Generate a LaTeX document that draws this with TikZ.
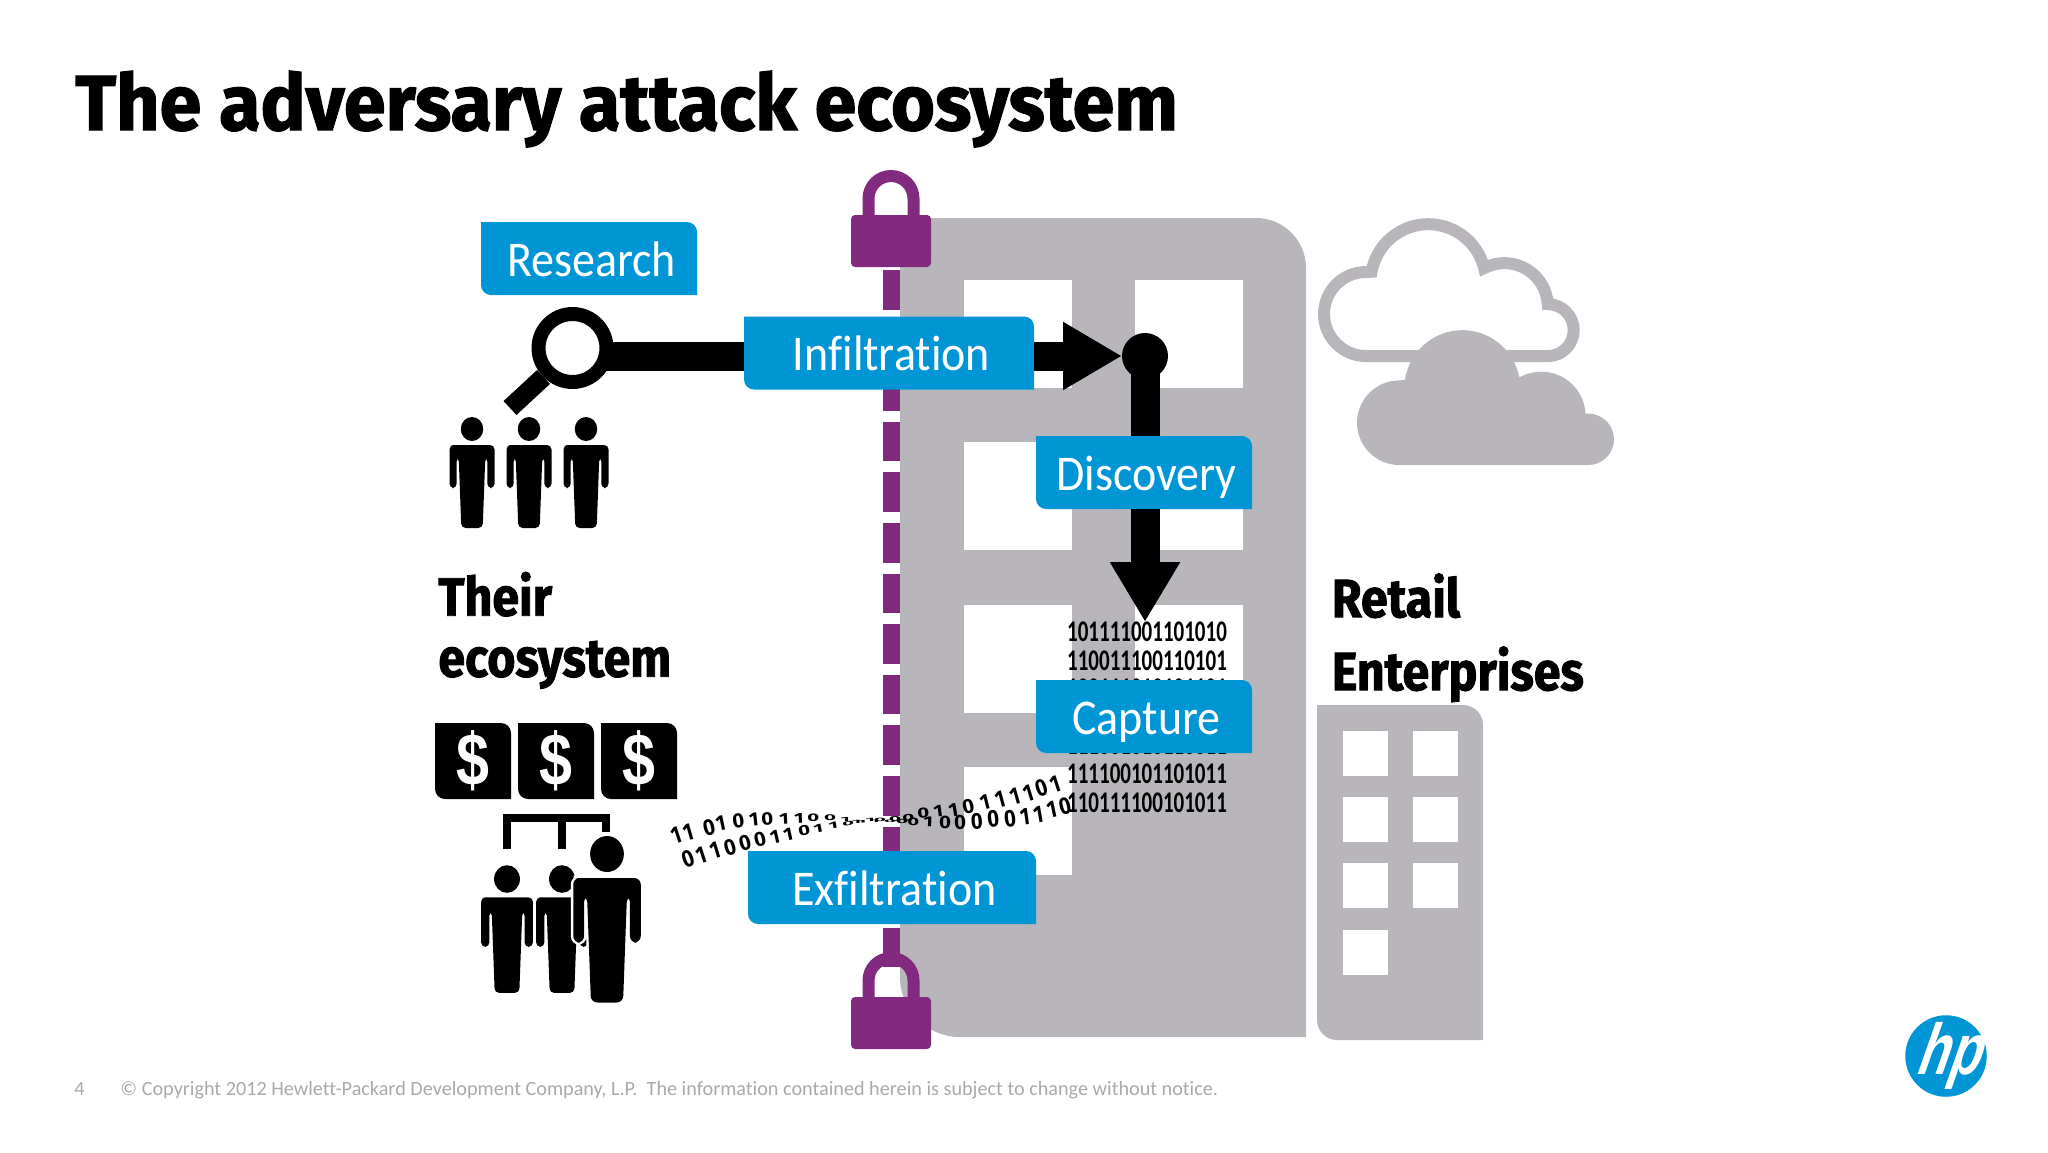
\documentclass[tikz,border=0pt]{standalone}
\usepackage{fontspec}
\usepackage{tikz}
\usetikzlibrary{arrows.meta, positioning, calc}
\setmainfont[Ligatures=NoCommon]{Carlito}
\newfontfamily\titlefont[FakeStretch=0.967,FakeBold=1.6,Ligatures=NoCommon]{Fira Sans}
\newfontfamily\headfont[FakeStretch=0.895,FakeBold=1.6,Ligatures=NoCommon]{Fira Sans}
\newfontfamily\labelfont[FakeStretch=0.92,Ligatures=NoCommon]{Carlito}
\newfontfamily\bitfont[FakeStretch=0.70]{Carlito}
\newfontfamily\bentfont[FakeStretch=0.85]{Fira Sans}
\newfontfamily\moneyfont[FakeStretch=0.8]{Liberation Sans}
\newfontfamily\logofont[FakeStretch=0.72,FakeSlant=0.35]{Liberation Sans}
\definecolor{hpblue}{HTML}{0096D6}
\definecolor{hppurple}{HTML}{822980}
\definecolor{bldgray}{HTML}{B8B6BA}
\definecolor{footgray}{HTML}{A9A9AB}

\tikzset{
    pics/person/.style={code={
        \path[fill=black] (0,0) ellipse [x radius=11.25, y radius=12];
        \path[fill=black, rounded corners=2.2pt, #1] (-18,16) -- (22.5,16) -- (22.5,59) -- (15.3,59) -- (15.3,28)
            -- (13.3,28) -- (10.7,99) -- (-10.7,99) -- (-13.3,28) -- (-15.3,28) -- (-15.3,59)
            -- (-22.5,59) -- (-22.5,16) -- cycle;
    }},
    pics/person/.default={},
    pics/lock/.style={code={
        \draw[hppurple, line width=6pt] (-22.5,0) -- (-22.5,-16.5) arc (180:360:22.5) -- (22.5,0);
        \fill[hppurple, rounded corners=2pt] (-40,0) rectangle (40,52);
    }}
}

\begin{document}
\begin{tikzpicture}[
    x=0.5pt, y=-0.5pt,
    cornerbox/.style={path picture={
        \fill[#1] (path picture bounding box.north west) [rounded corners=5pt]
            -- (path picture bounding box.north east) [sharp corners]
            -- (path picture bounding box.south east) [rounded corners=5pt]
            -- (path picture bounding box.south west) [sharp corners] -- cycle;}},
    stagebox/.style={cornerbox=hpblue, rectangle, inner sep=0pt, outer sep=0pt, minimum width=#1, minimum height=36.5pt,
        text height=19.3pt, text depth=1.5pt, text=white, font=\labelfont\fontsize{25}{30}\selectfont,
        execute at begin node={\kern2.5pt}},
    moneybox/.style={cornerbox=black, rectangle, inner sep=0pt, outer sep=0pt, minimum width=38pt, minimum height=38pt,
        text=white, font=\moneyfont\bfseries\fontsize{37}{37}\selectfont},
    blockfill/.style={fill=bldgray},
    pane/.style={fill=white},
    wall/.style={draw=hppurple, line width=8.5pt, dash pattern=on 19.75pt off 5.55pt},
    flowline/.style={draw=black, line width=14.5pt},
    bitrow/.style={font=\bitfont\bfseries\fontsize{15}{15}\selectfont, inner sep=0pt},
    bitbent/.style={font=\bentfont\bfseries\fontsize{12}{12}\selectfont, inner sep=0pt},
    headtext/.style={font=\headfont\bfseries\fontsize{27}{#1}\selectfont, align=left, inner sep=0pt},
    foottext/.style={text=footgray, font=\fontsize{10.1}{12}\selectfont, inner sep=0pt}
]
    \useasboundingbox (0,0) rectangle (2048,1152);

    % Title
    \node[font=\titlefont\bfseries\fontsize{39}{39}\selectfont, anchor=base west, inner sep=0pt] (title) at (75,130) {The adversary attack ecosystem};

    % Big building
    \fill[blockfill] (900,218) -- (1256,218) arc (270:360:50) -- (1306,1037) -- (960,1037) arc (90:180:60) -- cycle;
    \foreach \wx/\wy in {964/280, 1135/280, 964/442, 1135/442, 964/605, 1135/605, 964/767}
        \fill[pane] (\wx,\wy) rectangle ++(108,108);

    % Small building
    \fill[blockfill] (1317,705) -- (1463,705) arc (270:360:20) -- (1483,1040) -- (1337,1040) arc (90:180:20) -- cycle;
    \foreach \wx/\wy in {1343/731, 1413/731, 1343/797, 1413/797, 1343/863, 1413/863, 1343/930}
        \fill[pane] (\wx,\wy) rectangle ++(44.5,44.5);

    % Clouds
    \draw[bldgray, line width=6pt] (1366,356) arc (90:270:42) -- (1371.6,271.7) arc (190:346.4:57.5)
        arc (242:357:43.3) arc (270:450:26) -- cycle;
    \fill[blockfill] (1399.3,465) arc (90:270:42.3) -- (1405,380) arc (188:349:57.9)
        -- (1520.7,376.7) arc (242.5:356.6:44.4) -- (1588.3,413.6) arc (270:450:25.7) -- cycle;

    % Security line
    \coordinate (locktop) at (891.5,270);
    \coordinate (lockbottom) at (891.5,968);
    \draw[wall] (locktop) -- (lockbottom);

    % Captured data
    \foreach \by/\bits in {632/101111001101010, 660.5/110011100110101, 689/100111010101101, 745/111001010110011, 774/111100101101011, 802.5/110111100101011}
        \node[bitrow] (bits\bits) at (1147,\by) {\bits};

    % Stolen data stream
    \foreach \bx/\by/\brot/\bsq/\bit in {
        676.7/835/18/1/1, 688.3/832.7/16/1/1, 709/827.7/14/.95/0, 720.7/823.3/12/.9/1, 738.3/821/8/.85/0,
        754/819.3/6/.8/1, 767.3/819/5/.75/0, 784/819.3/3/.65/1, 799/818.3/2/.6/1, 813.3/817.3/1/.45/0,
        830/817.3/0/.35/0, 845/819.3/0/.25/1, 856.7/821.7/0/.2/1, 870/820/0/.2/1, 880/820/0/.2/0,
        895/819.3/0/.3/0, 908.3/817.3/5/.4/0, 923.3/812.7/6/.6/0, 938.3/811.7/8/.7/1, 953.3/810/10/.8/1,
        968.3/806.7/12/.85/0, 985/802.7/14/.9/1, 1000/799.3/15/1/1, 1015/796.7/16/1/1, 1028.3/793.3/17/1/1,
        1041.7/788.3/18/1/0, 1055/784/18/1/1,
        688.3/859.3/20/1/0, 701.7/855/18/1/1, 715/850.7/17/1/1, 730/847.3/16/.95/0, 745/842.7/15/.9/0,
        760/839.3/14/.85/0, 775/837.3/13/.8/1, 788.3/834.7/12/.75/1, 804.3/830.7/12/.6/0, 818.3/828.3/11/.5/1,
        833.3/825/10/.4/1, 848.3/824/9/.25/0, 861.7/822/5/.15/1, 875/821/0/.15/1, 890/821/0/.15/0,
        902/821.5/0/.25/0, 913.3/821.7/0/.45/0, 928.3/821.7/-2/.6/1, 945/822.3/0/.75/0, 960/822.7/2/.85/0,
        976.7/821/4/.95/0, 993.3/819.3/6/1/0, 1010/818.3/7/1/0, 1025/816.7/8/1/1, 1038.3/815/10/1/1,
        1051.7/810/12/1/1, 1065/806.7/14/1/0}
        \node[bitbent, rotate=\brot] at (\bx,\by) {\scalebox{1}[\bsq]{\bit}};

    % Stages
    \node[stagebox=108pt] (research) at (589,258.5) {Research};
    \node[stagebox=145pt] (infil) at (889,353) {Infiltration};
    \node[stagebox=108pt] (discover) at (1144,472.5) {Discovery};
    \node[stagebox=108pt, below=85.5pt of discover] (capture) {Capture};
    \node[stagebox=144pt] (exfil) at (892,887.5) {Exfiltration};

    % Magnifier
    \coordinate (barstart) at (590,356.5);
    \coordinate (handleend) at (510,408);
    \draw[flowline] (barstart) -- (infil.west |- barstart);
    \node[circle, draw=black, fill=white, line width=7pt, minimum size=34pt, inner sep=0pt] (lens) at (572.5,348) {};
    \draw[black, line width=9.5pt] (lens.225) -- (handleend);

    % Arrows
    \node[circle, fill=black, minimum size=23pt, inner sep=0pt, outer sep=0pt] (dot) at (1145,356) {};
    \coordinate (capturetip) at (1145,622);
    \draw[flowline, -{Triangle[length=29.5pt, width=32pt]}] (infil.east |- dot) -- (dot.west);
    \draw[flowline] (dot.center) -- (dot.center |- discover.north);
    \draw[flowline, -{Triangle[length=30pt, width=33pt]}] (capturetip |- discover.south) -- (capturetip);

    % Locks
    \pic at (891,215) {lock};
    \pic at (891,997) {lock};

    % Their ecosystem
    \node[headtext=30.5pt, anchor=north west] (their) at (438,571.5) {Their\\ecosystem};
    \foreach \pos in {472,529,586}
        \pic at (\pos,429) {person};
    \node[moneybox] (dollara) at (473,761) {\$};
    \node[moneybox, right=3.5pt of dollara] (dollarb) {\$};
    \node[moneybox, right=3.5pt of dollarb] (dollarc) {\$};
    \draw[black, line width=4pt] (507,849) |- (606,818) -- (606,832);
    \draw[black, line width=4pt] (561.5,818) -- (561.5,849);
    \pic[scale=1.15] at (507,879) {person};
    \pic[scale=1.15] at (562,879) {person};
    \pic[scale=1.5] at (607,854) {person={rounded corners=3.2pt, preaction={draw=white, line width=2.4pt}}};

    % Retail
    \node[headtext=36.5pt, anchor=north west] (retail) at (1331.5,573) {Retail\\Enterprises};

    % Footer
    \node[foottext, anchor=base west] (pagenum) at (74,1095) {4};
    \node[foottext, anchor=base west] (copyright) at (120,1095) {© Copyright 2012 Hewlett-Packard Development Company, L.P.\ \ The information contained herein is subject to change without notice.};

    % Logo
    \node[circle, fill=hpblue, minimum size=40.75pt, inner sep=0pt] (logo) at (1946,1056) {};
    \node[text=white, inner sep=0pt, font=\logofont\bfseries\fontsize{36}{36}\selectfont] (logotext) at (logo.center) {hp};
\end{tikzpicture}
\end{document}
